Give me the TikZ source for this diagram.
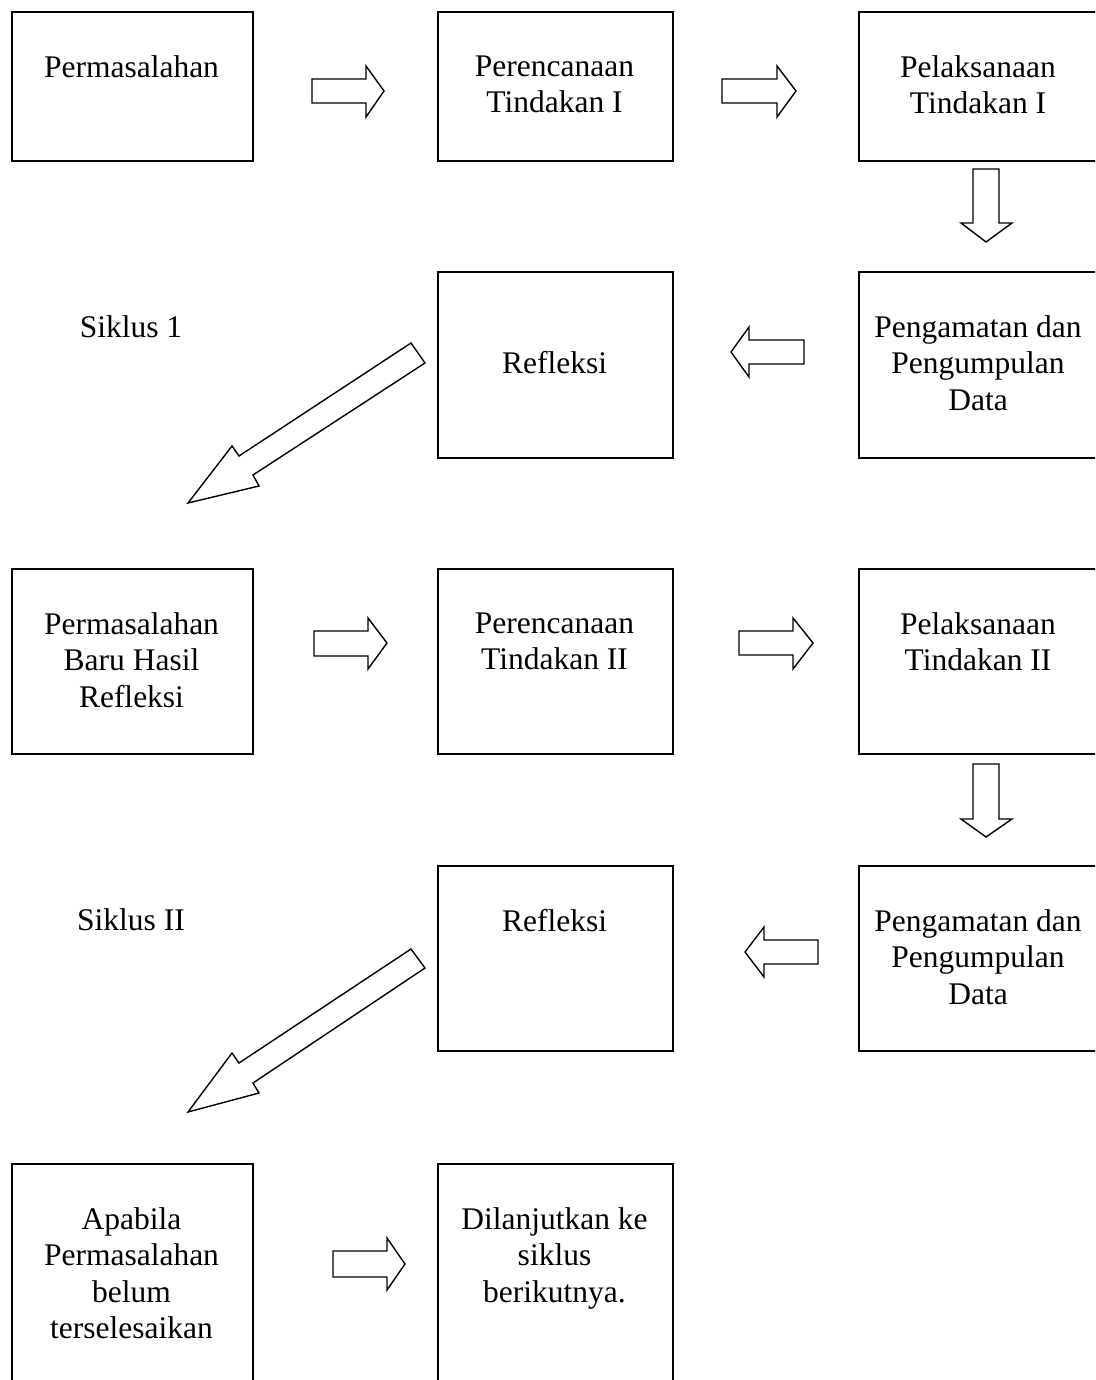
\documentclass[tikz,border=0pt]{standalone}
\usepackage{fontspec}
\setmainfont{Liberation Serif}
\begin{document}
\begin{tikzpicture}[x=1pt,y=-1pt,
  boxst/.style={draw, line width=2.2pt, inner sep=0pt, anchor=north west},
  txt/.style={font=\fontsize{31.5}{36.3}\selectfont, align=center, inner sep=0pt, anchor=north},
  blk/.style={draw, line width=1.4pt, line join=miter, fill=white}]
\useasboundingbox (0,0) rectangle (1095,1380);
\clip (0,0) rectangle (1095,1380);
% boxes
\node[boxst, minimum width=241pt, minimum height=149pt] (b11) at (11,11) {};
\node[boxst, minimum width=235pt, minimum height=149pt] (b12) at (437,11) {};
\node[boxst, minimum width=242pt, minimum height=149pt] (b13) at (858,11) {};
\node[boxst, minimum width=235pt, minimum height=186pt] (b22) at (437,271) {};
\node[boxst, minimum width=242pt, minimum height=186pt] (b23) at (858,271) {};
\node[boxst, minimum width=241pt, minimum height=185pt] (b31) at (11,568) {};
\node[boxst, minimum width=235pt, minimum height=185pt] (b32) at (437,568) {};
\node[boxst, minimum width=242pt, minimum height=185pt] (b33) at (858,568) {};
\node[boxst, minimum width=235pt, minimum height=185pt] (b42) at (437,865) {};
\node[boxst, minimum width=242pt, minimum height=185pt] (b43) at (858,865) {};
\node[boxst, minimum width=241pt, minimum height=230pt] (b51) at (11,1163) {};
\node[boxst, minimum width=235pt, minimum height=230pt] (b52) at (437,1163) {};
% texts
\node[txt] (t11) at (131.5,55.5) {Permasalahan};
\node[txt] (t12) at (554.5,55.5) {Perencanaan\\Tindakan I};
\node[txt] (t13) at (978,55.5) {Pelaksanaan\\Tindakan I};
\node[txt] (s1) at (131,315.5) {Siklus 1};
\node[txt] (t22) at (554.5,351.5) {Refleksi};
\node[txt] (t23) at (978,315.5) {Pengamatan dan\\Pengumpulan\\Data};
\node[txt] (t31) at (131.5,612.5) {Permasalahan\\Baru Hasil\\Refleksi};
\node[txt] (t32) at (554.5,612.5) {Perencanaan\\Tindakan II};
\node[txt] (t33) at (978,612.5) {Pelaksanaan\\Tindakan II};
\node[txt] (s2) at (131,908.5) {Siklus II};
\node[txt] (t42) at (554.5,909.5) {Refleksi};
\node[txt] (t43) at (978,909.5) {Pengamatan dan\\Pengumpulan\\Data};
\node[txt] (t51) at (131.5,1207.5) {Apabila\\Permasalahan\\belum\\terselesaikan};
\node[txt] (t52) at (554.5,1207.5) {Dilanjutkan ke\\siklus\\berikutnya.};
% block arrows
\draw[blk] (312,79) -- (366,79) -- (366,66) -- (384,91) -- (366,117) -- (366,103) -- (312,103) -- cycle;
\draw[blk] (722,79) -- (777,79) -- (777,66) -- (796,91) -- (777,117) -- (777,103) -- (722,103) -- cycle;
\draw[blk] (973,169) -- (999,169) -- (999,223) -- (1012,223) -- (986,242) -- (961,223) -- (973,223) -- cycle;
\draw[blk] (804,340) -- (749,340) -- (749,327) -- (731,352) -- (749,377) -- (749,364) -- (804,364) -- cycle;
\draw[blk] (411,343) -- (425,363) -- (253,475) -- (259,486) -- (188,503) -- (232,446) -- (239,456) -- cycle;
\draw[blk] (314,631) -- (368,631) -- (368,618) -- (387,643) -- (368,669) -- (368,656) -- (314,656) -- cycle;
\draw[blk] (739,631) -- (793,631) -- (793,618) -- (813,643) -- (793,669) -- (793,655) -- (739,655) -- cycle;
\draw[blk] (973,764) -- (999,764) -- (999,819) -- (1012,819) -- (986,837) -- (961,819) -- (973,819) -- cycle;
\draw[blk] (818,940) -- (764,940) -- (764,927) -- (745,952) -- (764,977) -- (764,964) -- (818,964) -- cycle;
\draw[blk] (411,949) -- (425,968) -- (253,1083) -- (259,1093) -- (188,1112) -- (232,1053) -- (239,1063) -- cycle;
\draw[blk] (333,1251) -- (387,1251) -- (387,1238) -- (405,1264) -- (387,1290) -- (387,1277) -- (333,1277) -- cycle;
\end{tikzpicture}
\end{document}
